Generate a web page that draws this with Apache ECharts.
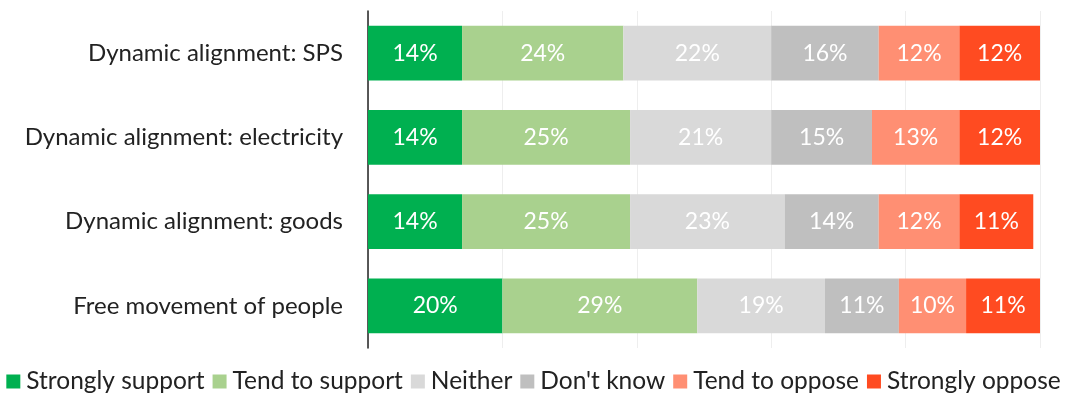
<!DOCTYPE html>
<html>
<head>
<meta charset="utf-8">
<style>
  html, body { margin: 0; padding: 0; background: #fff; }
  #chart { width: 1067px; height: 398px; }
</style>
<script src="https://cdn.jsdelivr.net/npm/echarts@6/dist/echarts.min.js"></script>
</head>
<body>
<div id="chart"></div>
<script>
// Survey categories (top to bottom)
const categories = [
  'Dynamic alignment: SPS',
  'Dynamic alignment: electricity',
  'Dynamic alignment: goods',
  'Free movement of people'
];

// Response shares, in % per category
const stronglySupport = [14, 14, 14, 20];
const tendToSupport   = [24, 25, 25, 29];
const neither         = [22, 21, 23, 19];
const dontKnow        = [16, 15, 14, 11];
const tendToOppose    = [12, 13, 12, 10];
const stronglyOppose  = [12, 12, 11, 11];

const seriesNames = ['Strongly support', 'Tend to support', 'Neither', "Don't know", 'Tend to oppose', 'Strongly oppose'];
const seriesData  = [stronglySupport, tendToSupport, neither, dontKnow, tendToOppose, stronglyOppose];
const colors      = ['#00b050', '#a9d18e', '#d9d9d9', '#bfbfbf', '#ff8f73', '#ff4b21'];

const FONT = 'Lato';

const chart = echarts.init(document.getElementById('chart'));
chart.setOption({
  animation: false,
  color: colors,
  grid: { left: 368, right: 27, top: 11, bottom: 50 },
  legend: {
    bottom: -1,
    left: 'center',
    itemWidth: 14,
    itemHeight: 14,
    itemGap: 8,
    icon: 'rect',
    textStyle: { fontFamily: FONT, fontSize: 24.5, color: '#222', padding: [0, 0, 0, 1] },
    data: seriesNames
  },
  xAxis: {
    type: 'value',
    min: 0,
    max: 100,
    interval: 20,
    axisLabel: { show: false },
    axisLine: { show: false },
    axisTick: { show: false },
    splitLine: { show: true, lineStyle: { color: '#eeeeee', width: 1 } }
  },
  yAxis: {
    type: 'category',
    inverse: true,
    data: categories,
    axisLine: { show: true, lineStyle: { color: '#222', width: 1.5 } },
    axisTick: { show: false },
    axisLabel: { fontFamily: FONT, fontSize: 24, color: '#222', margin: 25 }
  },
  series: seriesNames.map((name, i) => ({
    name: name,
    type: 'bar',
    stack: 'total',
    barWidth: '65%',
    data: seriesData[i],
    label: {
      show: true,
      position: 'inside',
      formatter: '{c}%',
      fontFamily: FONT,
      fontSize: 23,
      color: '#fff'
    }
  }))
});
</script>
</body>
</html>
